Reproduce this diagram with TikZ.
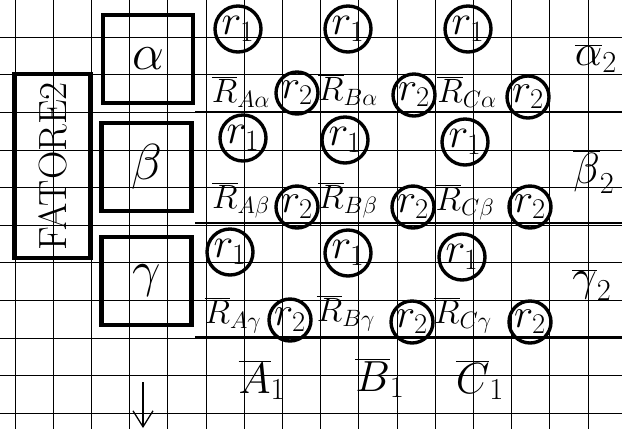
\RequirePackage{fix-cm}
\documentclass[tikz,border=0pt]{standalone}
\usepackage{tikz}
\usetikzlibrary{arrows.meta}
\tikzset{
  gridline/.style={draw=black,line width=0.6pt},
  rowline/.style={draw=black,line width=1.6pt},
  greekbox/.style={draw,line width=3pt,minimum width=22.5mm,minimum height=22mm,
    inner sep=0pt,font=\fontsize{36}{36}\selectfont},
  factorbox/.style={draw,line width=3.5pt,minimum width=46mm,minimum height=19mm,
    inner sep=0pt,font=\fontsize{28}{28}\selectfont},
  rone/.style={circle,draw,line width=2.4pt,minimum size=11.5mm,inner sep=0pt,
    font=\fontsize{30}{30}\selectfont},
  rtwo/.style={circle,draw,line width=2.4pt,minimum size=10.5mm,inner sep=0pt,
    font=\fontsize{29}{29}\selectfont},
  rlabel/.style={inner sep=0pt,font=\fontsize{24}{24}\selectfont},
  marglabel/.style={inner sep=0pt,font=\fontsize{31}{31}\selectfont},
  downarrow/.style={-{Straight Barb[length=4mm,width=5mm]},line width=0.9pt}
}
\begin{document}
\begin{tikzpicture}[x=0.025cm,y=-0.025cm]
\path[use as bounding box,fill=white] (0,0) rectangle (622,429);

\foreach \gx in {0,...,15}
  \draw[gridline] ({15+38.2*\gx},0) -- ({15+38.2*\gx},429);
\foreach \gy in {0,...,10}
  \draw[gridline] (0,{37.3+37.6*\gy}) -- (622,{37.3+37.6*\gy});
\draw[rowline] (195,112) -- (622,112);
\draw[rowline] (195,223) -- (622,223);
\draw[rowline] (195,337) -- (622,337);

\node[factorbox,rotate=90] (fatore) at (52.5,166) {FATORE2};

\node[greekbox] (alpha) at (148,59) {$\alpha$};
\node[greekbox] (beta) at (146.5,167) {$\beta$};
\node[greekbox] (gamma) at (146.5,281) {$\gamma$};

\node[rone] (r1Aa) at (238,29) {$r_1$};
\node[rone] (r1Ba) at (348,29) {$r_1$};
\node[rone] (r1Ca) at (468,29) {$r_1$};
\node[rlabel] (RAa) at (241,92) {$\overline{R}_{A\alpha}$};
\node[rlabel] (RBa) at (348,90) {$\overline{R}_{B\alpha}$};
\node[rlabel] (RCa) at (467,92) {$\overline{R}_{C\alpha}$};
\node[rtwo] (r2Aa) at (297,93) {$r_2$};
\node[rtwo] (r2Ba) at (414,95) {$r_2$};
\node[rtwo] (r2Ca) at (528,97) {$r_2$};

\node[rone] (r1Ab) at (243,138) {$r_1$};
\node[rone] (r1Bb) at (345,140) {$r_1$};
\node[rone] (r1Cb) at (465,142) {$r_1$};
\node[rlabel] (RAb) at (241,200) {$\overline{R}_{A\beta}$};
\node[rlabel] (RBb) at (348,200) {$\overline{R}_{B\beta}$};
\node[rlabel] (RCb) at (465,202) {$\overline{R}_{C\beta}$};
\node[rtwo] (r2Ab) at (297,207) {$r_2$};
\node[rtwo] (r2Bb) at (413,207) {$r_2$};
\node[rtwo] (r2Cb) at (530,207) {$r_2$};

\node[rone] (r1Ag) at (230,252) {$r_1$};
\node[rone] (r1Bg) at (348,253) {$r_1$};
\node[rone] (r1Cg) at (462,257) {$r_1$};
\node[rlabel] (RAg) at (233,315) {$\overline{R}_{A\gamma}$};
\node[rlabel] (RBg) at (346,313) {$\overline{R}_{B\gamma}$};
\node[rlabel] (RCg) at (463,315) {$\overline{R}_{C\gamma}$};
\node[rtwo] (r2Ag) at (290,320) {$r_2$};
\node[rtwo] (r2Bg) at (412,322) {$r_2$};
\node[rtwo] (r2Cg) at (530,322) {$r_2$};

\node[marglabel] (A1) at (262,380) {$\overline{A}_1$};
\node[marglabel] (B1) at (380,378) {$\overline{B}_1$};
\node[marglabel] (C1) at (480,380) {$\overline{C}_1$};

\node[marglabel] (alpha2) at (596,58) {$\overline{\alpha}_2$};
\node[marglabel] (beta2) at (594,172) {$\overline{\beta}_2$};
\node[marglabel] (gamma2) at (592,285) {$\overline{\gamma}_2$};

\coordinate (arrowtop) at (143,382);
\coordinate (arrowtip) at (143,428);
\draw[downarrow] (arrowtop) -- (arrowtip);
\end{tikzpicture}
\end{document}
